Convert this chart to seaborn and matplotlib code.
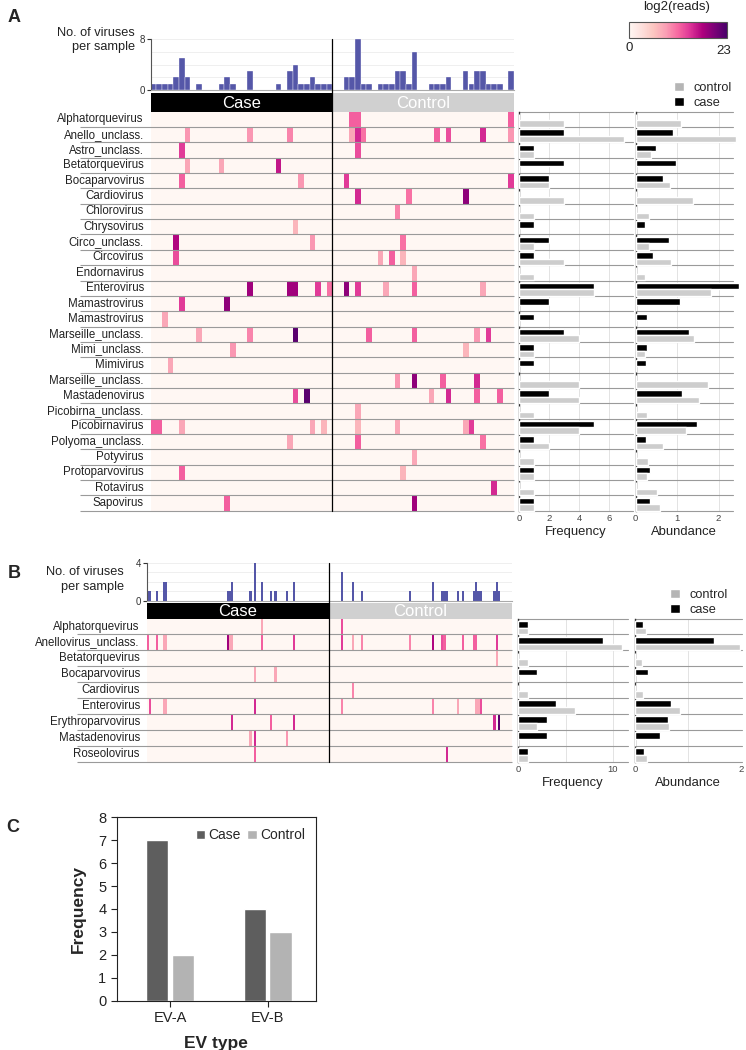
import numpy as np
import pandas as pd
import matplotlib
matplotlib.use("Agg")
import matplotlib.pyplot as plt
import seaborn as sns
from matplotlib.patches import Patch, Rectangle
from matplotlib.colors import Normalize
from matplotlib.cm import ScalarMappable
from matplotlib.lines import Line2D

# ------------------------------------------------------------------ DATA
viruses_A = ["Alphatorquevirus", "Anello_unclass.", "Astro_unclass.", "Betatorquevirus",
             "Bocaparvovirus", "Cardiovirus", "Chlorovirus", "Chrysovirus", "Circo_unclass.",
             "Circovirus", "Endornavirus", "Enterovirus", "Mamastrovirus", "Mamastrovirus",
             "Marseille_unclass.", "Mimi_unclass.", "Mimivirus", "Marseille_unclass.",
             "Mastadenovirus", "Picobirna_unclass.", "Picobirnavirus", "Polyoma_unclass.",
             "Potyvirus", "Protoparvovirus", "Rotavirus", "Sapovirus"]
n_samples_A = 32  # per group

# (row, sample column, log2 reads)
case_cells_A = [(1, 6, 9), (1, 17, 9), (1, 24, 10), (2, 5, 14), (3, 6, 8), (3, 12, 8), (3, 22, 16),
                (4, 5, 12), (4, 26, 9), (7, 25, 7), (8, 4, 17), (8, 28, 9), (9, 4, 13),
                (11, 17, 18), (11, 24, 18), (11, 25, 18), (11, 29, 14), (11, 31, 11),
                (12, 5, 14), (12, 13, 19), (13, 2, 8), (14, 8, 8), (14, 17, 10), (14, 25, 22),
                (15, 14, 9), (16, 3, 8), (18, 25, 13), (18, 27, 22),
                (20, 0, 12), (20, 1, 12), (20, 5, 8), (20, 28, 8), (20, 30, 7),
                (21, 24, 8), (23, 5, 12), (25, 13, 12)]
ctrl_cells_A = [(0, 3, 12), (0, 4, 12), (0, 31, 12),
                (1, 3, 8), (1, 4, 15), (1, 5, 11), (1, 18, 12), (1, 20, 13), (1, 26, 15), (1, 31, 9),
                (2, 4, 13), (4, 2, 14), (4, 31, 14), (5, 4, 15), (5, 13, 11), (5, 23, 19),
                (6, 11, 10), (8, 12, 11), (9, 8, 8), (9, 10, 12), (9, 12, 7), (10, 14, 8),
                (11, 2, 19), (11, 4, 14), (11, 9, 8), (11, 14, 12), (11, 26, 8),
                (14, 6, 12), (14, 14, 12), (14, 25, 9), (14, 27, 14), (15, 23, 7),
                (17, 11, 9), (17, 14, 19), (17, 19, 12), (17, 25, 15),
                (18, 17, 8), (18, 20, 15), (18, 25, 12), (18, 29, 12), (19, 4, 8),
                (20, 4, 7), (20, 11, 8), (20, 23, 8), (20, 24, 14), (21, 4, 12), (21, 26, 11),
                (22, 14, 8), (23, 12, 7), (24, 28, 15), (25, 14, 18)]

abund_case_A = [0, 0.91, 0.48, 0.98, 0.65, 0, 0, 0.22, 0.81, 0.42, 0, 2.5, 1.06, 0.27,
                1.29, 0.28, 0.25, 0, 1.12, 0, 1.49, 0.25, 0, 0.35, 0, 0.35]
abund_ctrl_A = [1.09, 2.43, 0.36, 0, 0.84, 1.38, 0.31, 0, 0.31, 0.85, 0.23, 1.82, 0, 0,
                1.41, 0.22, 0, 1.75, 1.52, 0.28, 1.21, 0.66, 0.30, 0.27, 0.52, 0.59]

viruses_B = ["Alphatorquevirus", "Anellovirus_unclass.", "Betatorquevirus", "Bocaparvovirus",
             "Cardiovirus", "Enterovirus", "Erythroparvovirus", "Mastadenovirus", "Roseolovirus"]
n_samples_B = 80  # per group
case_cells_B = [(0, 50, 8),
                (1, 0, 12), (1, 4, 12), (1, 7, 8), (1, 8, 8), (1, 35, 18), (1, 36, 8), (1, 37, 8),
                (1, 50, 12), (1, 64, 14),
                (3, 47, 8), (3, 56, 8),
                (5, 1, 13), (5, 7, 8), (5, 8, 8), (5, 47, 15),
                (6, 37, 15), (6, 54, 12), (6, 64, 15),
                (7, 45, 8), (7, 47, 15), (7, 61, 9),
                (8, 47, 12)]
ctrl_cells_B = [(0, 5, 13),
                (1, 5, 14), (1, 10, 8), (1, 14, 10), (1, 35, 10), (1, 45, 17), (1, 49, 13),
                (1, 50, 12), (1, 58, 12), (1, 63, 12), (1, 64, 12), (1, 73, 14),
                (2, 73, 8), (4, 10, 10),
                (5, 5, 10), (5, 45, 10), (5, 56, 8), (5, 64, 8), (5, 65, 8), (5, 66, 13),
                (6, 72, 15), (6, 74, 22), (8, 51, 15)]
abund_case_B = [0.15, 1.49, 0, 0.24, 0, 0.68, 0.61, 0.46, 0.16]
abund_ctrl_B = [0.20, 1.97, 0.13, 0, 0.15, 0.84, 0.63, 0, 0.23]

ev_types = ["EV-A", "EV-A", "EV-B", "EV-B"]
ev_groups = ["Case", "Control", "Case", "Control"]
ev_freq = [7, 2, 4, 3]

# ------------------------------------------------------------------ SETUP
sns.set_theme(style="ticks")
plt.rcParams['font.family'] = ['Liberation Sans', 'DejaVu Sans']

W, H = 746, 1050
fig = plt.figure(figsize=(W / 100, H / 100), dpi=100)


def add_ax(x0, y0, x1, y1):
    return fig.add_axes([x0 / W, 1 - y1 / H, (x1 - x0) / W, (y1 - y0) / H])


CMAP = "RdPu"
VMAX = 23
HIST_C = "#5557a8"
LINE_C = "#9a9a9a"
CASE_C = "black"
CTRL_C = "#cdcdcd"
TXT_C = "#222222"


def build_matrix(nrows, n, case_cells, ctrl_cells):
    M = np.zeros((nrows, 2 * n))
    for r, c, v in case_cells:
        M[r, c] = v
    for r, c, v in ctrl_cells:
        M[r, n + c] = v
    return M


def panel(names, n, case_cells, ctrl_cells, ab_case, ab_ctrl, geo):
    nrows = len(names)
    M = build_matrix(nrows, n, case_cells, ctrl_cells)
    ncol = 2 * n
    hx0, hx1 = geo['hx0'], geo['hx1']
    mid_x = hx0 + (hx1 - hx0) / 2

    # histogram
    axh = add_ax(hx0, geo['hist_top'], hx1, geo['hist_bot'])
    counts = (M > 0).sum(axis=0)
    sns.barplot(x=np.arange(ncol), y=counts, ax=axh, color=HIST_C, width=1.0,
                saturation=1, edgecolor="white", linewidth=geo['hist_lw'])
    axh.set_xlim(-0.5, ncol - 0.5)
    axh.set_ylim(0, geo['hmax'])
    for g in geo['hgrid']:
        axh.axhline(g, color="#ececec", lw=0.6, zorder=0)
    axh.set_xticks([])
    axh.set_yticks([0, geo['hmax']])
    axh.tick_params(axis='y', labelsize=7, length=3, width=0.8, pad=1, colors="#333333")
    axh.set_xlabel("")
    axh.set_ylabel("")
    for s in ["top", "right"]:
        axh.spines[s].set_visible(False)
    axh.spines["left"].set_color("#555555")
    axh.spines["left"].set_linewidth(0.8)
    axh.spines["bottom"].set_color("#aaaaaa")
    axh.spines["bottom"].set_linewidth(0.8)
    axh.patch.set_alpha(0)

    # header bar
    axc = add_ax(hx0, geo['hdr_top'], hx1, geo['hdr_bot'])
    axc.set_xlim(0, ncol)
    axc.set_ylim(0, 1)
    axc.add_patch(Rectangle((0, 0), n, 1, color="black", lw=0))
    axc.add_patch(Rectangle((n, 0), n, 1, color="#d0d0d0", lw=0))
    axc.text(n / 2, 0.47, "Case", color="white", ha="center", va="center", fontsize=12)
    axc.text(1.5 * n, 0.47, "Control", color="white", ha="center", va="center", fontsize=12)
    axc.axis("off")

    # heatmap
    axm = add_ax(hx0, geo['hm_top'], hx1, geo['hm_bot'])
    sns.heatmap(pd.DataFrame(M), ax=axm, cmap=CMAP, vmin=0, vmax=VMAX, cbar=False,
                xticklabels=False, yticklabels=names, linewidths=0)
    axm.set_yticklabels(names, rotation=0, fontsize=8.3, color=TXT_C)
    axm.tick_params(axis='y', length=0, pad=5)
    left_frac = (geo['line_x0'] - hx0) / (hx1 - hx0)
    for i in range(1, nrows + 1):
        axm.hlines(i, left_frac, 1, transform=axm.get_yaxis_transform(),
                   color=LINE_C, lw=0.8, clip_on=False)

    # vertical divider
    fig.add_artist(Line2D([mid_x / W] * 2, [1 - geo['hist_top'] / H, 1 - geo['hm_bot'] / H],
                          color="black", lw=0.9))

    # side bar charts
    df = pd.DataFrame({
        "row": list(range(nrows)) * 2,
        "group": ["case"] * nrows + ["control"] * nrows,
        "freq": np.concatenate([(M[:, :n] > 0).sum(axis=1), (M[:, n:] > 0).sum(axis=1)]),
        "abund": list(ab_case) + list(ab_ctrl),
    })
    specs = [("freq", geo['fx0'], geo['fx1'], geo['fxlim'], geo['fticks'], geo['fgrid'], "Frequency"),
             ("abund", geo['ax0'], geo['ax1'], geo['axlim'], geo['aticks'], geo['agrid'], "Abundance")]
    for col, x0, x1, xlim, ticks, grid, lab in specs:
        ax = add_ax(x0, geo['hm_top'], x1, geo['hm_bot'])
        sns.barplot(data=df, x=col, y="row", hue="group", hue_order=["case", "control"],
                    order=list(range(nrows)), orient="h",
                    palette={"case": CASE_C, "control": CTRL_C}, width=0.84, saturation=1,
                    errorbar=None, legend=False, ax=ax)
        for p in ax.patches:
            p.set_zorder(3)
            p.set_clip_on(False)
        off = 0.57
        ax.set_ylim(nrows - off, -off)
        ax.set_xlim(*xlim)
        for j in range(nrows + 1):
            ax.axhline(j - off, color=LINE_C, lw=0.8, zorder=1, clip_on=False)
        for g in grid:
            ax.axvline(g, color="#e3e3e3", lw=0.7, zorder=0)
        ax.set_yticks([])
        ax.set_xticks(ticks)
        ax.tick_params(axis='x', length=0, labelsize=6.8, labelcolor="#444444", pad=2.5)
        ax.set_ylabel("")
        ax.set_xlabel(lab, fontsize=9.4, labelpad=2, color=TXT_C)
        for s in ["top", "right", "bottom"]:
            ax.spines[s].set_visible(False)
        ax.spines["left"].set_color("#333333")
        ax.spines["left"].set_linewidth(1.0)
        ax.patch.set_alpha(0)

    # legend
    fig.legend(handles=[Patch(facecolor="#b5b5b5", label="control"),
                        Patch(facecolor="black", label="case")],
               loc="upper left", bbox_to_anchor=(geo['leg_x'] / W, 1 - geo['leg_y'] / H),
               frameon=False, fontsize=9.2, handlelength=0.75, handleheight=0.75,
               handletextpad=0.8, labelspacing=0.2, borderpad=0, borderaxespad=0)

    # "No. of viruses per sample"
    fig.text(geo['nv_x'] / W, 1 - geo['nv_y'] / H, "No. of viruses\nper sample",
             ha="right", va="center", fontsize=9.2, linespacing=1.3, color=TXT_C)


# ------------------------------------------------------------------ PANEL A
geoA = dict(hx0=150.7, hx1=513.9, hist_top=39.3, hist_bot=90.0, hmax=8, hgrid=[2, 4, 6, 8],
            hist_lw=0.25,
            hdr_top=93.3, hdr_bot=111.7, hm_top=111.7, hm_bot=510.7, line_x0=80,
            fx0=519.3, fx1=633, fxlim=(0, 7.6), fticks=[0, 2, 4, 6], fgrid=[2, 4, 6],
            ax0=635.7, ax1=733, axlim=(0, 2.35), aticks=[0, 1, 2], agrid=[1, 2],
            leg_x=674, leg_y=82, nv_x=135, nv_y=40)
panel(viruses_A, n_samples_A, case_cells_A, ctrl_cells_A, abund_case_A, abund_ctrl_A, geoA)

# colorbar
cax = add_ax(629, 21.7, 727, 38.3)
cb = fig.colorbar(ScalarMappable(norm=Normalize(0, VMAX), cmap=CMAP), cax=cax,
                  orientation="horizontal")
cb.set_ticks([])
cb.outline.set_edgecolor("#555555")
cb.outline.set_linewidth(0.8)
fig.text(677 / W, 1 - 7 / H, "log2(reads)", ha="center", va="center", fontsize=9.5, color=TXT_C)
fig.text(629 / W, 1 - 48 / H, "0", ha="center", va="center", fontsize=9.5, color=TXT_C)
fig.text(724 / W, 1 - 51 / H, "23", ha="center", va="center", fontsize=9.5, color=TXT_C)

# ------------------------------------------------------------------ PANEL B
geoB = dict(hx0=146.7, hx1=511.7, hist_top=563.0, hist_bot=600.7, hmax=4, hgrid=[1, 2, 3, 4],
            hist_lw=0,
            hdr_top=602.7, hdr_bot=618.6, hm_top=618.6, hm_bot=761.7, line_x0=77,
            fx0=518.3, fx1=628, fxlim=(0, 11.6), fticks=[0, 10], fgrid=[5, 10],
            ax0=635, ax1=741.6, axlim=(0, 2.0), aticks=[0, 2], agrid=[1],
            leg_x=670, leg_y=589, nv_x=124, nv_y=579.5)
panel(viruses_B, n_samples_B, case_cells_B, ctrl_cells_B, abund_case_B, abund_ctrl_B, geoB)

# ------------------------------------------------------------------ PANEL C
dfC = pd.DataFrame({"ev": ev_types, "group": ev_groups, "freq": ev_freq})
axC = add_ax(116.7, 817.3, 316, 1000.7)
sns.barplot(data=dfC, x="ev", y="freq", hue="group", hue_order=["Case", "Control"],
            palette={"Case": "#5e5e5e", "Control": "#b3b3b3"}, width=0.52, gap=0.12,
            saturation=1, errorbar=None, ax=axC)
axC.set_xlim(-0.546, 1.495)
axC.set_ylim(0, 8)
axC.set_yticks(range(0, 9))
for s in ["top", "right", "left", "bottom"]:
    axC.spines[s].set_visible(True)
    axC.spines[s].set_color("#222222")
    axC.spines[s].set_linewidth(0.8)
axC.tick_params(axis="both", labelsize=10.5, length=4, width=0.8, direction="out",
                colors="#222222")
axC.set_ylabel("Frequency", fontsize=12.5, fontweight="bold", labelpad=9)
axC.set_xlabel("EV type", fontsize=12.5, fontweight="bold", labelpad=8)
leg = axC.legend(ncol=2, loc="upper right", frameon=False, fontsize=10, handlelength=0.7,
                 handleheight=0.7, handletextpad=0.2, columnspacing=0.5, borderaxespad=0.4)

# panel letters
fig.text(8 / W, 1 - 18 / H, "A", fontsize=13, fontweight="bold", va="center")
fig.text(8 / W, 1 - 573 / H, "B", fontsize=13, fontweight="bold", va="center")
fig.text(6 / W, 1 - 827 / H, "C", fontsize=13, fontweight="bold", va="center")

fig.savefig("out.png", dpi=100)
